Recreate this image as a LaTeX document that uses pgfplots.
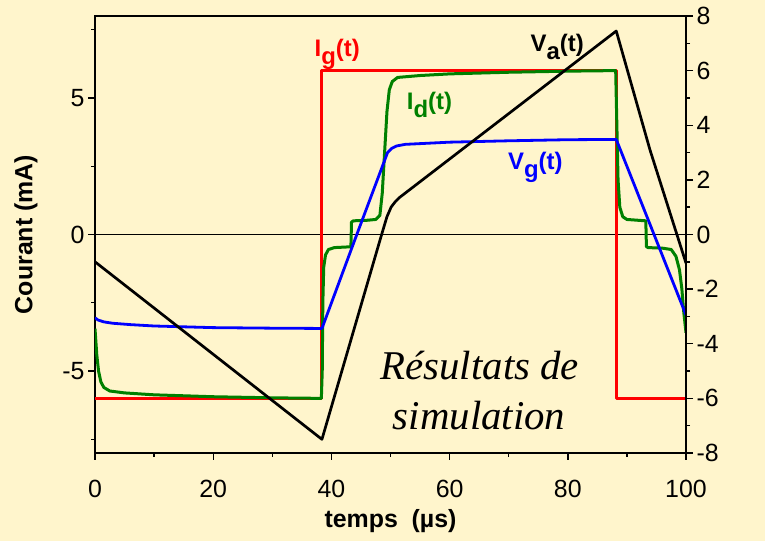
\documentclass[border=0pt]{standalone}
\usepackage{pgfplots}
\pgfplotsset{compat=1.18}
\usepackage{fontspec}
\setmainfont{Liberation Sans}
\newfontfamily\serifit{Liberation Serif}
\definecolor{bg}{RGB}{255,245,204}
\definecolor{dgreen}{RGB}{0,128,0}
\definecolor{bblue}{RGB}{0,0,255}
\definecolor{rred}{RGB}{255,0,0}
\newcommand{\lbl}[2]{\textbf{#1\raisebox{-0.32em}{#2}(t)}}
\begin{document}
\begin{tikzpicture}[x=1bp,y=1bp]
\fill[bg] (-95,-88) rectangle (670,453);
\begin{axis}[
  at={(0,0)}, anchor=south west,
  scale only axis, width=591bp, height=437bp,
  xmin=0, xmax=100, ymin=-8, ymax=8,
  axis line style={line width=1.5bp},
  every tick/.style={line width=1.4bp, black},
  tick align=outside,
  major tick length=7bp, minor tick length=4bp,
  xtick={0,20,40,60,80,100},
  xticklabels={0,20,40,60,80,100},
  minor xtick={10,30,50,70,90},
  ytick={-5,0,5},
  yticklabels={-5,0,5},
  minor ytick={-7.5,-2.5,2.5,7.5},
  xtick pos=bottom, ytick pos=left,
  ticklabel style={font=\fontsize{25}{30}\selectfont},
  xticklabel style={anchor=base, yshift=-38bp},
  yticklabel style={anchor=east},
  every axis plot/.append style={line join=round},
  clip=true,
  xlabel={\textbf{temps\ \ (µs)}},
  xlabel style={font=\fontsize{25}{30}\selectfont, at={(axis description cs:0.5,-0.1556)}, anchor=center},
  ylabel={\textbf{Courant (mA)}},
  ylabel style={font=\fontsize{25}{30}\selectfont, at={(axis description cs:-0.1168,0.5)}, anchor=center},
]
\addplot[black, line width=1.2bp] coordinates {(0,0) (100,0)};
% I_g
\addplot[rred, line width=3.5bp] coordinates {
(0,-6) (38.3,-6) (38.3,6) (88.2,6) (88.2,-6) (100,-6)};
% I_d
\addplot[dgreen, line width=3bp] coordinates {
(0,-3.45) (0.3,-4.4) (0.6,-5.0) (1.0,-5.4) (1.5,-5.6) (2.5,-5.73) (5,-5.8) (10,-5.87) (20,-5.94) (30,-5.98) (38.3,-6.0)
(38.45,-5.0) (38.55,-2.5) (38.7,-1.2) (39.0,-0.75) (39.5,-0.55) (40.5,-0.48) (43.3,-0.45)
(43.4,0.45) (43.7,0.5) (46,0.52) (47.5,0.55) (48.2,0.7) (48.6,1.5) (49.0,3.0) (49.4,4.5) (49.8,5.3) (50.3,5.6) (51.2,5.75)
(55,5.82) (60,5.88) (70,5.94) (80,5.98) (88.1,6.0)
(88.3,4.0) (88.5,2.0) (88.8,1.0) (89.3,0.65) (90,0.55) (93.2,0.5)
(93.3,-0.45) (93.6,-0.48) (96,-0.5) (97.5,-0.55) (98.3,-0.8) (98.9,-1.3) (99.3,-2.0) (99.6,-2.8) (100,-3.6)};
% V_g
\addplot[bblue, line width=2.8bp] coordinates {
(0,-3.05) (0.5,-3.13) (1.5,-3.2) (3,-3.25) (6,-3.3) (10,-3.35) (20,-3.41) (30,-3.43) (38.4,-3.44)
(44.3,0) (49.5,3.0) (50.2,3.15) (51,3.24) (52.5,3.3) (60,3.38) (70,3.43) (80,3.47) (88.2,3.48) (100,-2.95)};
% V_a
\addplot[black, line width=2.7bp] coordinates {
(0,-1.0) (38.4,-7.5) (48.5,0) (49.4,0.65) (50.1,1.0) (50.8,1.2) (51.5,1.35) (88.2,7.45) (93.9,3.1) (100,-1.05)};
\node[rred, anchor=base, font=\fontsize{24}{28}\selectfont] at (axis cs:41.0,6.51) {\lbl{I}{g}};
\node[black, anchor=base, font=\fontsize{24}{28}\selectfont] at (axis cs:78.2,6.7) {\lbl{V}{a}};
\node[dgreen, anchor=base, font=\fontsize{24}{28}\selectfont] at (axis cs:56.6,4.57) {\lbl{I}{d}};
\node[bblue, anchor=base, font=\fontsize{24}{28}\selectfont] at (axis cs:74.5,2.38) {\lbl{V}{g}};
\node[anchor=base, font=\serifit\itshape\fontsize{41}{48}\selectfont] at (axis cs:65.1,-5.3) {Résultats de};
\node[anchor=base, font=\serifit\itshape\fontsize{41}{48}\selectfont] at (axis cs:65.0,-7.13) {simulation};
\end{axis}
\begin{axis}[
  at={(0,0)}, anchor=south west,
  scale only axis, width=591bp, height=437bp,
  xmin=0, xmax=100, ymin=-8, ymax=8,
  axis x line=none, axis y line*=right,
  axis line style={line width=1.5bp},
  every tick/.style={line width=1.4bp, black},
  tick align=outside,
  major tick length=7bp, minor tick length=4bp,
  ytick={-8,-6,-4,-2,0,2,4,6,8},
  yticklabels={-8,-6,-4,-2,0,2,4,6,8},
  minor ytick={-7,-5,-3,-1,1,3,5,7},
  ticklabel style={font=\fontsize{25}{30}\selectfont},
  yticklabel style={anchor=west},
]
\node[rotate=-90, anchor=center, font=\fontsize{25}{30}\selectfont\bfseries] at (axis description cs:1.0998,0.5) {Tension (kV)};
\end{axis}
\pgfresetboundingbox
\useasboundingbox (-95,-88) rectangle (670,453);
\end{tikzpicture}
\end{document}
